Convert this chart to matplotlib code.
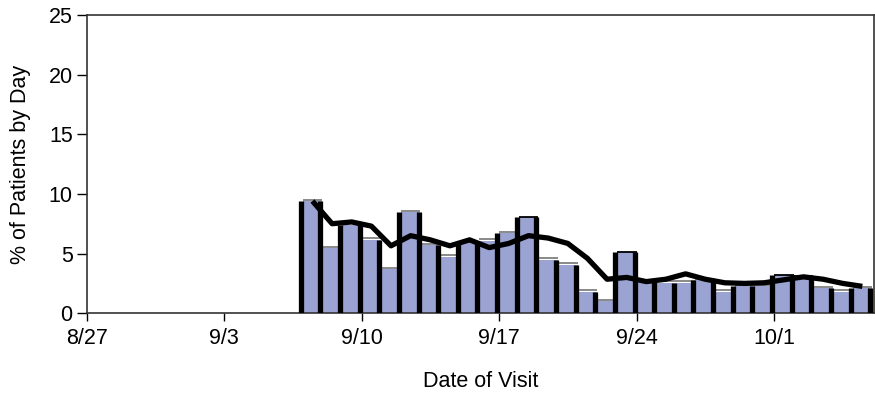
import numpy as np
import pandas as pd
import matplotlib
matplotlib.use("Agg")
import matplotlib.pyplot as plt
import matplotlib.dates as mdates

plt.rcParams['font.family'] = ['Liberation Sans', 'DejaVu Sans']

# daily share of patients, 9/7 .. 10/5
dates = pd.date_range("2001-09-07", "2001-10-05", freq="D")
pct = [9.4, 5.45, 7.4, 6.15, 3.7, 8.45, 5.7, 4.75, 5.85, 6.05,
       6.7, 8.05, 4.5, 4.05, 1.8, 1.0, 5.15, 2.6, 2.55, 2.55,
       2.75, 1.8, 2.25, 2.25, 3.2, 3.15, 2.1, 1.8, 2.1]
# smoothed trend line
trend = [9.4, 7.5, 7.65, 7.3, 5.65, 6.5, 6.15, 5.65, 6.15, 5.5,
         5.85, 6.5, 6.3, 5.85, 4.6, 2.85, 3.0, 2.65, 2.85, 3.3,
         2.85, 2.55, 2.5, 2.55, 2.8, 3.05, 2.85, 2.5, 2.25]
# bars drawn with a dark top edge instead of the grey one
dark_top = ["2001-09-18", "2001-09-23", "2001-10-01", "2001-10-02"]

tick_dates = pd.to_datetime(["2001-08-27", "2001-09-03", "2001-09-10",
                             "2001-09-17", "2001-09-24", "2001-10-01"])
tick_labels = ["8/27", "9/3", "9/10", "9/17", "9/24", "10/1"]

fig = plt.figure(figsize=(8.75, 3.93), dpi=100)
ax = fig.add_axes([0.099, 0.203, 0.9, 0.759])

x = mdates.date2num(dates)
h = np.array(pct)
ax.bar(x, h, width=1.0, align="edge", color="#9aa3d2", linewidth=0, zorder=2)

# grey / dark caps on the bars
for xi, hi, d in zip(x, h, dates):
    if d.strftime("%Y-%m-%d") in dark_top:
        ax.hlines(hi, xi, xi + 1, color="black", lw=1.3, zorder=3)
    else:
        ax.hlines(hi + 0.13, xi, xi + 1, color="#808080", lw=1.3, zorder=3)

# thick dark separators between bars
edges = np.append(x, x[-1] + 1)
left_h = np.append(0, h)
right_h = np.append(h, 0)
ax.vlines(edges - 0.1, 0, np.maximum(left_h, right_h), color="black",
          lw=3.8, zorder=3)

ax.plot(x + 0.5, trend, color="black", lw=3.8, solid_capstyle="butt",
        solid_joinstyle="round", zorder=4)

x0 = mdates.date2num(tick_dates[0])
ax.set_xlim(x0, x0 + 40.1)
ax.set_ylim(0, 25)
ax.set_xticks(mdates.date2num(tick_dates))
ax.set_xticklabels(tick_labels)
ax.set_yticks([0, 5, 10, 15, 20, 25])

ax.tick_params(axis="y", direction="out", length=7, width=1, labelsize=15.5, pad=3)
ax.tick_params(axis="x", direction="out", length=5.5, width=1, labelsize=15.5, pad=5)

for s in ax.spines.values():
    s.set_color("#333333")
    s.set_linewidth(1.2)

ax.set_ylabel("% of Patients by Day", fontsize=15.5, labelpad=13)
ax.set_xlabel("Date of Visit", fontsize=15.5, labelpad=16)

fig.savefig("out.png", dpi=100)
